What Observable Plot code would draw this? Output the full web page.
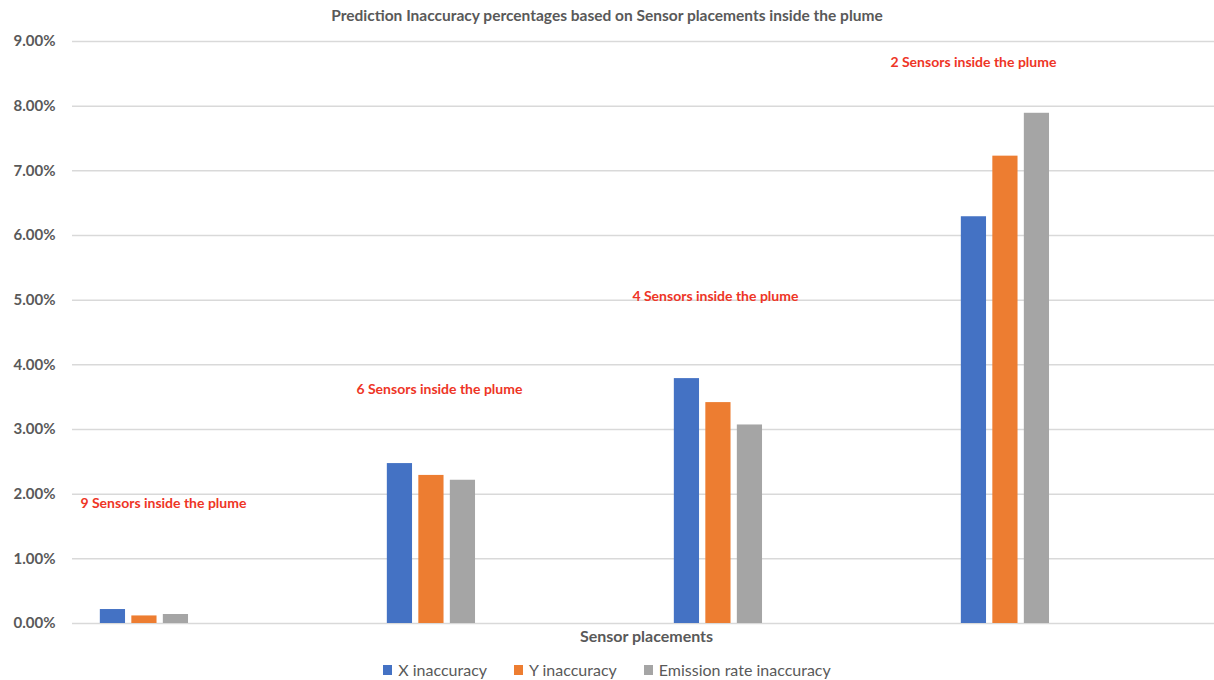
<!DOCTYPE html>
<html><head><meta charset="utf-8">
<script src="https://cdn.jsdelivr.net/npm/d3@7"></script>
<script src="https://cdn.jsdelivr.net/npm/@observablehq/plot@0.6"></script>
<style>
body{margin:0;background:#fff;font-family:Lato,sans-serif;}
#title{height:28px;line-height:30px;text-align:center;font-weight:bold;font-size:15.5px;color:#595959;}
#chart svg{display:block}
#legend{display:flex;justify-content:center;align-items:center;height:25px;padding-top:2px;font-size:16px;color:#595959;gap:27px}
.item{display:flex;align-items:center}
.sw{display:inline-block;width:9px;height:10px;margin-right:6px}
</style></head><body>
<div id="title">Prediction Inaccuracy percentages based on Sensor placements inside the plume</div>
<div id="chart"></div>
<div id="legend"></div>
<script>
const categories = ["9 sensors", "6 sensors", "4 sensors", "2 sensors"];
const series = ["X inaccuracy", "Y inaccuracy", "Emission rate inaccuracy"];
const xInaccuracy = [0.00216, 0.02473, 0.03787, 0.0629];
const yInaccuracy = [0.00117, 0.0229, 0.03416, 0.07227];
const emissionInaccuracy = [0.00139, 0.02215, 0.0307, 0.0789];
const yTicks = [0, 0.01, 0.02, 0.03, 0.04, 0.05, 0.06, 0.07, 0.08, 0.09];
const annoText = ["9 Sensors inside the plume", "6 Sensors inside the plume", "4 Sensors inside the plume", "2 Sensors inside the plume"];
const annoValue = [0.01855, 0.0362, 0.0505, 0.0868];
const colors = ["#4472c4", "#ed7d31", "#a5a5a5"];

const seriesValues = [xInaccuracy, yInaccuracy, emissionInaccuracy];
const table = [];
categories.forEach((c, i) => series.forEach((s, j) => table.push({category: c, series: s, value: seriesValues[j][i]})));
const annos = categories.map((c, i) => ({category: c, series: series[1], value: annoValue[i], text: annoText[i]}));
const annoDx = [19, 8, -3, -32];

const grey = "#595959";
const plot = Plot.plot({
  width: 1214,
  height: 627,
  marginTop: 13,
  marginBottom: 32,
  marginLeft: 72,
  marginRight: 0,
  style: {fontFamily: "Lato, sans-serif", background: "#fff"},
  fx: {domain: categories, range: [72, 72 + 4 * 287], padding: 0},
  x: {domain: series, axis: null, paddingInner: 0.2, paddingOuter: 3.156, align: 0.14, round: false},
  y: {domain: [0, 0.09], axis: null},
  color: {domain: series, range: colors},
  marks: [
    Plot.gridY(yTicks, {stroke: "#d9d9d9", strokeOpacity: 1, strokeWidth: 1.5}),
    Plot.axisY({ticks: yTicks, tickFormat: d3.format(".2%"), tickSize: 0, tickPadding: 17, fontSize: 15, fontWeight: "bold", fill: grey, label: null}),
    Plot.axisFx({anchor: "bottom", ticks: [], tickSize: 0, label: "Sensor placements", labelAnchor: "center", labelOffset: 18, fontSize: 16, fontWeight: "bold", fill: grey}),
    Plot.barY(table, {fx: "category", x: "series", y: "value", fill: "series"}),
    ...annos.map((a, i) => Plot.text([a], {fx: "category", x: "series", y: "value", text: "text", dx: annoDx[i], fill: "#ee3526", fontWeight: "bold", fontSize: 14}))
  ]
});
document.getElementById("chart").appendChild(plot);

const legend = document.getElementById("legend");
series.forEach((s, i) => {
  const it = document.createElement("span");
  it.className = "item";
  it.innerHTML = `<span class="sw" style="background:${colors[i]}"></span>${s}`;
  legend.appendChild(it);
});
</script>
</body></html>
